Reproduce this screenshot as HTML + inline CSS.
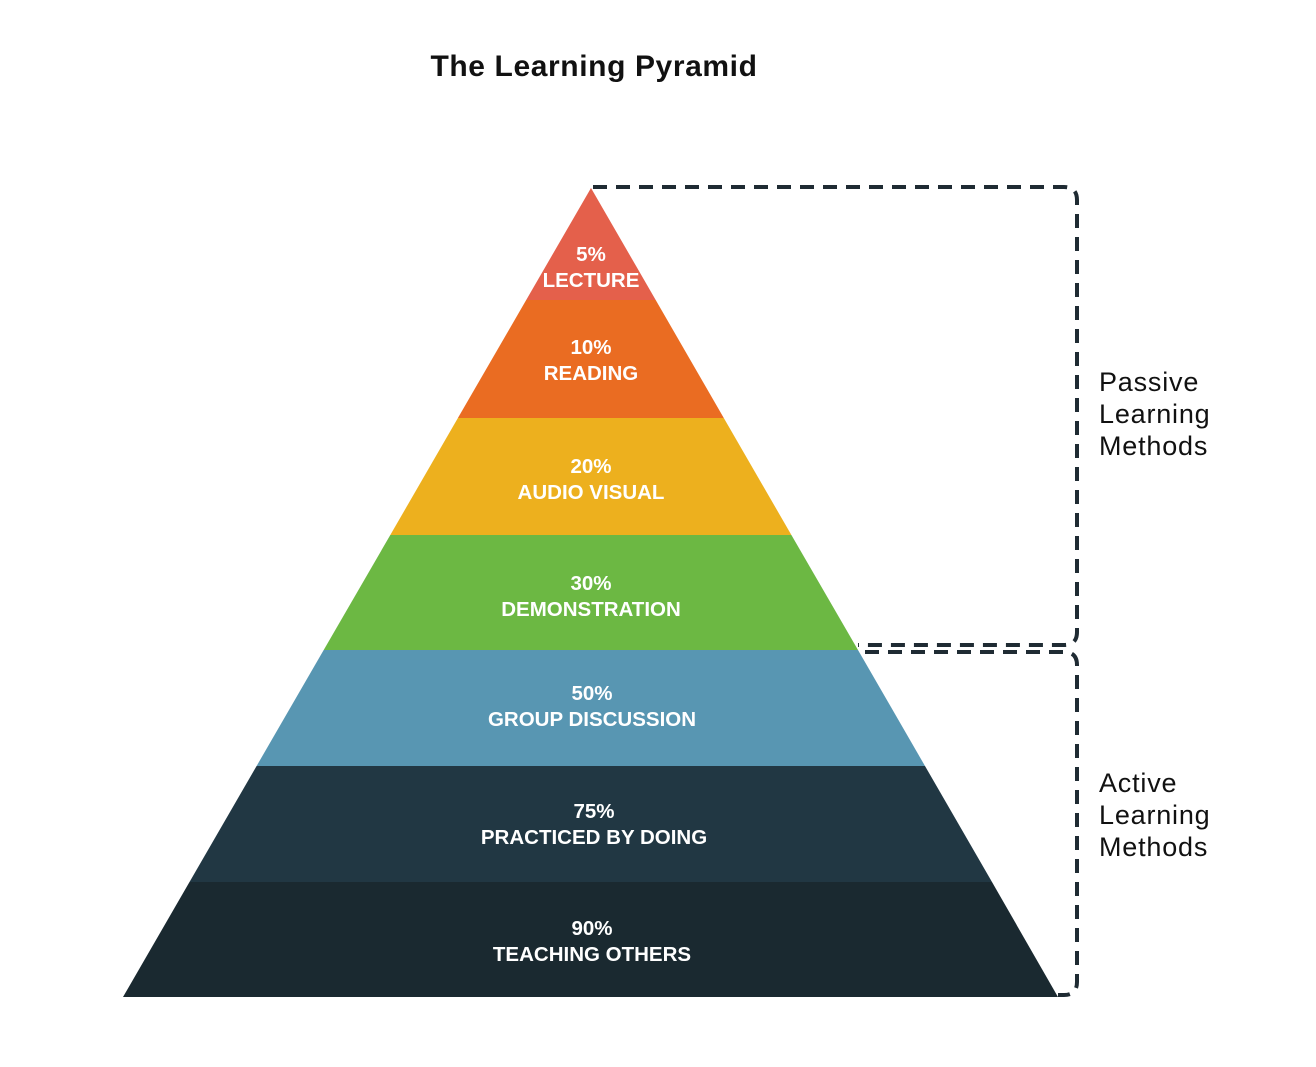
<!DOCTYPE html>
<html><head><style>body{margin:0;background:#fff}</style></head><body>
<svg width="1316" height="1062" xmlns="http://www.w3.org/2000/svg" font-family="Liberation Sans, sans-serif">
<rect width="1316" height="1062" fill="#fff"/>
<text x="594" y="76" font-size="30" font-weight="bold" text-anchor="middle" fill="#111" letter-spacing="0.6">The Learning Pyramid</text>
<polygon points="591,188 655.7,300 526.2,300" fill="#E4604B"/>
<polygon points="526.2,300 655.7,300 723.8,418 457.9,418" fill="#EA6C22"/>
<polygon points="457.9,418 723.8,418 791.4,535 390.3,535" fill="#EDB01E"/>
<polygon points="390.3,535 791.4,535 858,650 323.7,650" fill="#6CB843"/>
<polygon points="323.7,650 858,650 925,766 256.6,766" fill="#5896B2"/>
<polygon points="256.6,766 925,766 992,882 189.5,882" fill="#213743"/>
<polygon points="189.5,882 992,882 1058,997 123,997" fill="#1A2930"/>
<g fill="#fff" font-size="20.5" font-weight="bold" text-anchor="middle">
<text x="591" y="261">5%</text><text x="591" y="287">LECTURE</text>
<text x="591" y="354">10%</text><text x="591" y="380">READING</text>
<text x="591" y="473">20%</text><text x="591" y="499">AUDIO VISUAL</text>
<text x="591" y="590">30%</text><text x="591" y="616">DEMONSTRATION</text>
<text x="592" y="700">50%</text><text x="592" y="726">GROUP DISCUSSION</text>
<text x="594" y="818">75%</text><text x="594" y="844">PRACTICED BY DOING</text>
<text x="592" y="935">90%</text><text x="592" y="961">TEACHING OTHERS</text>
</g>
<g fill="none" stroke="#1f2b33" stroke-width="4" stroke-dasharray="14,9">
<path d="M593,187 H1064 Q1077,187 1077,200 V632 Q1077,645 1064,645 H858"/>
<path d="M865,652 H1064 Q1077,652 1077,665 V982 Q1077,995 1064,995 H1058"/>
</g>
<g font-size="27" fill="#111" letter-spacing="0.8">
<text x="1099" y="391">Passive</text><text x="1099" y="423">Learning</text><text x="1099" y="455">Methods</text>
<text x="1099" y="792">Active</text><text x="1099" y="824">Learning</text><text x="1099" y="856">Methods</text>
</g>
</svg>
</body></html>
